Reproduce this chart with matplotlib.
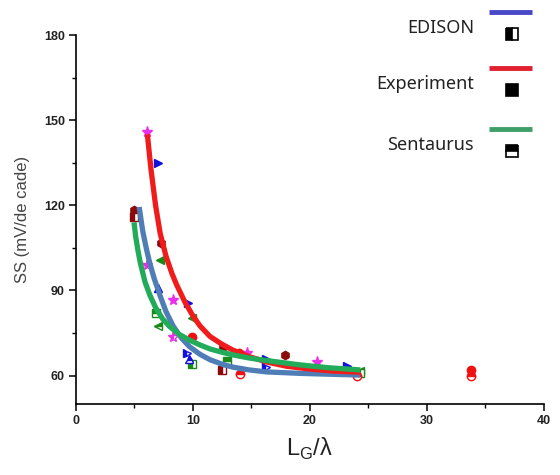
import matplotlib
matplotlib.use("Agg")
import matplotlib.pyplot as plt
from matplotlib.ticker import MultipleLocator

# fitted curves
exp_fit_x = [6.1, 6.4, 6.8, 7.2, 7.7, 8.2, 8.6, 9.3, 10.0, 10.6, 11.45, 12.5, 13.4, 14.8, 16.3, 18.0, 20.0, 22.0, 24.3]
exp_fit_y = [145, 133, 120, 110, 102, 96, 92, 86, 81, 77.5, 73.8, 71, 69, 66.7, 64.8, 63.3, 62.3, 61.6, 61.2]

edi_fit_x = [5.4, 5.7, 6.0, 6.3, 6.7, 7.2, 7.7, 8.3, 9.0, 9.7, 10.6, 11.45, 12.5, 13.4, 14.8, 16.3, 19.1, 21.5, 24.3]
edi_fit_y = [119.4, 111, 105, 99.7, 94, 88, 82.5, 77.5, 73.3, 70.2, 67.5, 65.6, 64, 63, 62, 61.3, 60.8, 60.5, 60.2]

sen_fit_x = [4.96, 5.1, 5.3, 5.5, 5.9, 6.3, 6.8, 7.4, 8.0, 8.8, 9.7, 10.6, 11.45, 12.5, 13.4, 14.8, 16.3, 19.1, 21.5, 24.3]
sen_fit_y = [114, 109, 104, 99.7, 93, 88.5, 84, 80, 77.3, 74.6, 72.5, 70.8, 69.4, 68.2, 67.3, 66.2, 65.3, 63.8, 62.8, 62]

# measured / simulated points: (x, y, marker, color)
exp_pts = [
    (6.1, 146, '*', '#e830e8'), (8.3, 86.6, '*', '#e830e8'), (14.6, 68, '*', '#e830e8'), (20.6, 64.8, '*', '#e830e8'),
    (7.0, 135, '>', '#1010e0'), (9.6, 85.6, '>', '#1010e0'), (16.2, 65.8, '>', '#1010e0'), (23.2, 63.4, '>', '#1010e0'),
    (5.0, 118.5, 'h', '#8b0a0a'), (7.3, 106.7, 'h', '#8b0a0a'), (12.6, 70, 'h', '#8b0a0a'), (17.9, 67.3, 'h', '#8b0a0a'),
    (7.2, 100.7, '<', '#1a8a1a'), (9.9, 80.3, '<', '#1a8a1a'), (24.3, 61.5, '<', '#1a8a1a'),
    (9.9, 73.6, 'o', '#ee1111'), (13.9, 68, 'o', '#ee1111'), (33.8, 62, 'o', '#ee1111'),
]
edi_pts = [
    (6.1, 99, '*', '#e830e8'), (8.3, 73.6, '*', '#e830e8'),
    (7.0, 91, '^', '#1010e0'), (9.5, 68, '>', '#1010e0'), (16.2, 63, '>', '#1010e0'),
    (5.0, 116, 's', '#8b0a0a'), (12.5, 62, 's', '#8b0a0a'),
    (9.9, 64, 's', '#1a8a1a'), (24.3, 61, 's', '#1a8a1a'),
]
sen_pts = [
    (6.8, 82, 's', '#1a8a1a'), (7.0, 77.5, '<', '#1a8a1a'),
    (14.0, 60.5, 'o', '#ee1111'), (24.0, 60, 'o', '#ee1111'), (33.8, 60, 'o', '#ee1111'),
    (12.9, 65, 's', '#1a8a1a'), (9.7, 66, '^', '#1010e0'),
]

labels = ['EDISON', 'Experiment', 'Sentaurus']
fit_colors = ['#4f7db5', '#f01c1c', '#22ac5a']
legend_line_colors = ['#4848c8', '#e02030', '#3ea068']
legend_fill = ['left', 'full', 'top']

fig = plt.figure(figsize=(5.6, 4.75), dpi=100)
ax = fig.add_axes([0.1357, 0.1495, 0.8357, 0.7768])

for pts, fs in [(exp_pts, 'full'), (edi_pts, 'left'), (sen_pts, 'top')]:
    for x, y, m, c in pts:
        ax.plot(x, y, marker=m, color=c, markersize=6 if m != '*' else 8,
                fillstyle=fs, markerfacecoloralt='white', markeredgewidth=1.0,
                linestyle='none', zorder=2)

ax.plot(edi_fit_x, edi_fit_y, color=fit_colors[0], lw=3.8, solid_capstyle='butt', solid_joinstyle='round', zorder=3)
ax.plot(exp_fit_x, exp_fit_y, color=fit_colors[1], lw=3.8, solid_capstyle='butt', solid_joinstyle='round', zorder=3)
ax.plot(sen_fit_x, sen_fit_y, color=fit_colors[2], lw=3.8, solid_capstyle='butt', solid_joinstyle='round', zorder=3)

ax.set_xlim(0, 40)
ax.set_ylim(50, 180)
ax.xaxis.set_major_locator(MultipleLocator(10))
ax.xaxis.set_minor_locator(MultipleLocator(5))
ax.set_yticks([60, 90, 120, 150, 180])
ax.yaxis.set_minor_locator(MultipleLocator(15))
ax.spines['top'].set_visible(False)
ax.spines['right'].set_visible(False)
for s in ['left', 'bottom']:
    ax.spines[s].set_linewidth(1.2)
ax.tick_params(which='major', direction='out', length=5, width=1.1, pad=3)
ax.tick_params(which='minor', direction='out', length=3, width=1.0)
for lab in ax.get_xticklabels() + ax.get_yticklabels():
    lab.set_fontfamily('Liberation Sans')
    lab.set_fontweight('bold')
    lab.set_fontsize(9)
    lab.set_color('#222222')

ax.set_ylabel('SS (mV/de cade)', fontfamily='Liberation Sans', fontsize=12, color='#444444', labelpad=10)
ax.set_xlabel(r'L$_\mathregular{G}$/λ', fontfamily='Liberation Sans', fontsize=17, color='#222222', labelpad=6)

# legend drawn in pixel space on an overlay
ov = fig.add_axes([0, 0, 1, 1])
ov.set_xlim(0, 560)
ov.set_ylim(475, 0)
ov.axis('off')
row_y = [12, 68, 129]
for i, lab in enumerate(labels):
    ov.plot([489, 532], [row_y[i], row_y[i]], color=legend_line_colors[i], lw=3.5, solid_capstyle='butt')
    ov.plot(512, row_y[i] + 22, marker='s', markersize=9, color='black', fillstyle=legend_fill[i],
            markerfacecoloralt='white', markeredgewidth=1.2, linestyle='none')
    ov.text(474, row_y[i] + 16, lab, ha='right', va='center', fontfamily='Noto Sans',
            fontsize=13, color='#222222', stretch='condensed')

fig.savefig('out.png', dpi=100)
